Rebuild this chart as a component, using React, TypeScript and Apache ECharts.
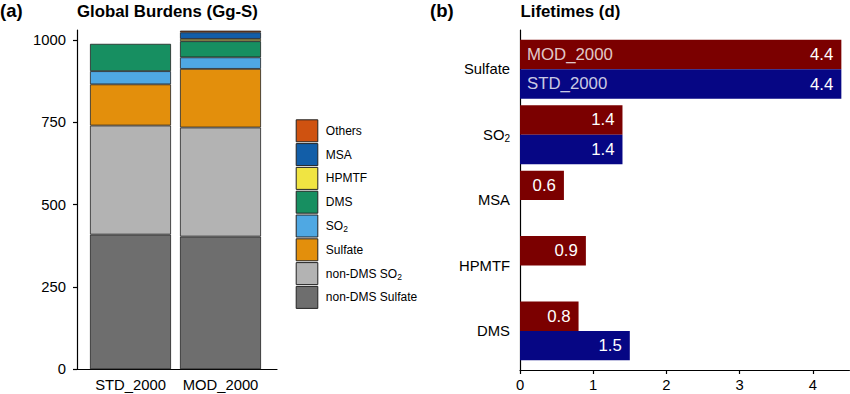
import React, { useEffect, useRef } from 'react';
import * as echarts from 'echarts';

// ---- data ----
const runs = ['STD_2000', 'MOD_2000'];
const burdenSpecies = ['non-DMS Sulfate', 'non-DMS SO2', 'Sulfate', 'SO2', 'DMS', 'HPMTF', 'MSA', 'Others'];
const burdenColors = ['#6e6e6e', '#b3b3b3', '#e38f0c', '#4fa8e3', '#178f61', '#f0e442', '#125ea8', '#cf5210'];
const burdenSTD = [409, 331, 125, 40, 83, null, null, null];
const burdenMOD = [403, 331, 178, 35, 49, 7, 20, 5];
const burdenTicks = [0, 250, 500, 750, 1000];

const lifetimeSpecies = ['Sulfate', 'SO2', 'MSA', 'HPMTF', 'DMS'];
const lifetimeMOD = [4.39, 1.4, 0.6, 0.9, 0.8];
const lifetimeSTD = [4.39, 1.4, null, null, 1.5];
const lifetimeTicks = [0, 1, 2, 3, 4];

const dodge = 0.9;
const FONT = "'Liberation Sans', Arial, sans-serif";

const subFmt = (s: string) => (s.endsWith('SO2') ? s.replace('SO2', 'SO{sub|2}') : s);

export default function App() {
  const ref = useRef<HTMLDivElement>(null);
  useEffect(() => {
    document.body.style.margin = '0';
    const chart = echarts.init(ref.current!, null, { renderer: 'svg' });
    const axisLineStyle = { color: '#000', width: 1.2 };
    const option: any = {
      animation: false,
      backgroundColor: '#fff',
      textStyle: { fontFamily: FONT },
      title: [
        { text: '(a)', left: 0, top: 1, padding: 0, textStyle: { fontFamily: FONT, fontSize: 18.5, fontWeight: 'bold', color: '#000' } },
        { text: 'Global Burdens (Gg-S)', left: 77, top: 3, padding: 0, textStyle: { fontFamily: FONT, fontSize: 16.8, fontWeight: 'bold', color: '#000' } },
        { text: '(b)', left: 430, top: 1, padding: 0, textStyle: { fontFamily: FONT, fontSize: 18.5, fontWeight: 'bold', color: '#000' } },
        { text: 'Lifetimes (d)', left: 520.5, top: 3, padding: 0, textStyle: { fontFamily: FONT, fontSize: 16.8, fontWeight: 'bold', color: '#000' } },
      ],
      legend: {
        data: [...burdenSpecies].reverse(),
        orient: 'vertical',
        left: 295.7,
        top: 119.3,
        padding: 0,
        itemWidth: 21.6,
        itemHeight: 22,
        itemGap: 0.8,
        selectedMode: false,
        icon: 'rect',
        itemStyle: { borderColor: '#222', borderWidth: 1 },
        formatter: subFmt,
        textStyle: {
          fontFamily: FONT,
          fontSize: 12,
          color: '#000',
          padding: [0, 0, 0, 3],
          rich: { sub: { fontFamily: FONT, fontSize: 8.5, color: '#000', padding: [6, 0, 0, 0] } },
        },
      },
      grid: [
        { left: 85.5, width: 180, top: 30, height: 339.3 },
        { left: 77, width: 200, top: 30, height: 339.3 },
        { left: 520, width: 329.4, top: 36.6, height: 327 },
        { left: 520, width: 329.4, top: 30, height: 340 },
      ],
      xAxis: [
        {
          gridIndex: 0, type: 'category', data: runs,
          axisLine: { show: false }, axisTick: { show: false },
          axisLabel: { interval: 0, margin: 8, fontSize: 14.8, color: '#000', fontFamily: FONT },
        },
        {
          gridIndex: 1, type: 'value', min: 0, max: 1,
          axisLine: { show: true, onZero: false, lineStyle: axisLineStyle },
          axisTick: { show: false }, axisLabel: { show: false }, splitLine: { show: false },
        },
        { gridIndex: 2, type: 'value', min: 0, max: 4.5, show: false, splitLine: { show: false } },
        {
          gridIndex: 3, type: 'value', min: 0, max: 4.5,
          axisLine: { show: true, onZero: false, lineStyle: axisLineStyle },
          axisTick: { show: true, length: 4, customValues: lifetimeTicks, lineStyle: axisLineStyle },
          axisLabel: { customValues: lifetimeTicks, margin: 7, fontSize: 14.8, color: '#000', fontFamily: FONT },
          splitLine: { show: false },
        },
      ],
      yAxis: [
        { gridIndex: 0, type: 'value', min: 0, max: 1030, show: false, splitLine: { show: false } },
        {
          gridIndex: 1, type: 'value', min: 0, max: 1030,
          axisLine: { show: true, onZero: false, lineStyle: axisLineStyle },
          axisTick: { show: true, length: 4, customValues: burdenTicks, lineStyle: axisLineStyle },
          axisLabel: {
            customValues: burdenTicks, margin: 11, fontSize: 14.8, color: '#000', fontFamily: FONT,
            formatter: (v: number) => String(v),
          },
          splitLine: { show: false },
        },
        {
          gridIndex: 2, type: 'category', data: lifetimeSpecies, inverse: true,
          axisLine: { show: false }, axisTick: { show: false },
          axisLabel: {
            interval: 0, margin: 10, fontSize: 14.8, color: '#000', fontFamily: FONT,
            formatter: subFmt,
            rich: { sub: { fontFamily: FONT, fontSize: 10, color: '#000', padding: [8, 0, 0, 0] } },
          },
        },
        {
          gridIndex: 3, type: 'value', min: -0.6, max: 4.6, inverse: true,
          axisLine: { show: true, onZero: false, lineStyle: axisLineStyle },
          axisTick: { show: false }, axisLabel: { show: false }, splitLine: { show: false },
        },
      ],
      series: [
        ...burdenSpecies.map((name, i) => ({
          type: 'bar',
          name,
          xAxisIndex: 0,
          yAxisIndex: 0,
          stack: 'burden',
          barWidth: dodge * 100 + '%',
          data: [burdenSTD[i], burdenMOD[i]],
          itemStyle: { color: burdenColors[i], borderColor: '#222', borderWidth: 0.8 },
        })),
        {
          type: 'bar', name: runs[1], xAxisIndex: 2, yAxisIndex: 2,
          barWidth: (dodge / 2) * 100 + '%', barGap: '0%',
          data: lifetimeMOD,
          itemStyle: { color: '#7b0000' },
          label: {
            show: true, position: 'insideRight', distance: 8, color: '#fff', fontSize: 16.8, fontFamily: FONT,
            formatter: (p: any) => Number(p.value).toFixed(1),
          },
        },
        {
          type: 'bar', name: runs[0], xAxisIndex: 2, yAxisIndex: 2,
          barWidth: (dodge / 2) * 100 + '%', barGap: '0%',
          data: lifetimeSTD,
          itemStyle: { color: '#060684' },
          label: {
            show: true, position: 'insideRight', distance: 8, color: '#fff', fontSize: 16.8, fontFamily: FONT,
            formatter: (p: any) => Number(p.value).toFixed(1),
          },
        },
        {
          type: 'scatter', xAxisIndex: 3, yAxisIndex: 3, symbolSize: 0, silent: true, z: 10,
          data: [[0, -dodge / 4]],
          label: { show: true, position: 'right', distance: 7, formatter: runs[1], color: '#fff', fontSize: 16.8, fontFamily: FONT },
        },
        {
          type: 'scatter', xAxisIndex: 3, yAxisIndex: 3, symbolSize: 0, silent: true, z: 10,
          data: [[0, dodge / 4]],
          label: { show: true, position: 'right', distance: 7, formatter: runs[0], color: '#fff', fontSize: 16.8, fontFamily: FONT },
        },
      ],
    };
    chart.setOption(option);
    return () => chart.dispose();
  }, []);
  return <div ref={ref} style={{ width: 850, height: 394 }} />;
}
